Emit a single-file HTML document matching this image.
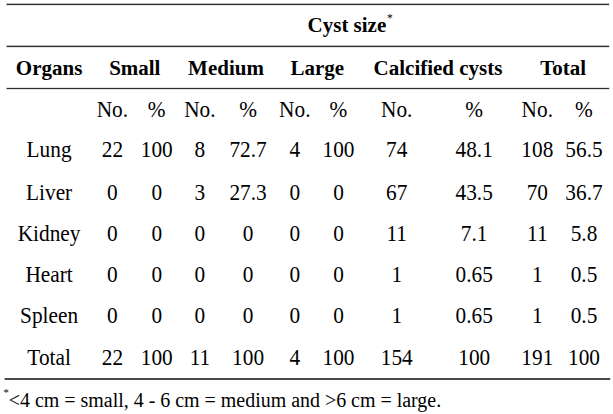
<!DOCTYPE html>
<html><head><meta charset="utf-8"><title>Cyst size by organ</title><style>
html,body{margin:0;padding:0;background:#fff;width:613px;height:414px;overflow:hidden}
svg{display:block}
text{font-family:"Liberation Serif",serif;fill:#000}
.r{font-size:21.33px;text-anchor:middle}
.b{font-size:21.0px;font-weight:bold;text-anchor:middle}
.f{font-size:19.95px;text-anchor:start}
.s1{font-size:11.5px;text-anchor:start}
.s2{font-size:10.5px;text-anchor:start}
</style></head><body>
<svg width="613" height="414" viewBox="0 0 613 414">
<rect x="6.5" y="3.65" width="602.7" height="1.5" fill="#333"/><rect x="6.5" y="45.65" width="602.7" height="1.5" fill="#333"/><rect x="6.5" y="87.85" width="602.7" height="1.3" fill="#2e2e2e"/><rect x="4.6" y="378.00" width="605.6" height="2.0" fill="#4a4a4a"/>
<text class="b" transform="translate(346.9 31.9) scale(1 1.03)">Cyst size</text>
<text class="s1" x="387.0" y="21.6">*</text>
<text class="b" transform="translate(49.1 75.4) scale(1 1.045)">Organs</text>
<text class="b" transform="translate(134.8 75.4) scale(1 1.045)">Small</text>
<text class="b" transform="translate(226.0 75.4) scale(1 1.045)">Medium</text>
<text class="b" transform="translate(317.2 75.4) scale(1 1.045)">Large</text>
<text class="b" transform="translate(438.0 75.4) scale(1 1.045)">Calcified cysts</text>
<text class="b" transform="translate(563.1 75.4) scale(1 1.045)">Total</text>
<text class="r" transform="translate(112.4 116.8) scale(1 1.06)">No.</text>
<text class="r" transform="translate(156.7 116.8) scale(1 1.06)">%</text>
<text class="r" transform="translate(199.9 116.8) scale(1 1.06)">No.</text>
<text class="r" transform="translate(248.1 116.8) scale(1 1.06)">%</text>
<text class="r" transform="translate(294.8 116.8) scale(1 1.06)">No.</text>
<text class="r" transform="translate(338.5 116.8) scale(1 1.06)">%</text>
<text class="r" transform="translate(396.7 116.8) scale(1 1.06)">No.</text>
<text class="r" transform="translate(474.2 116.8) scale(1 1.06)">%</text>
<text class="r" transform="translate(537.3 116.8) scale(1 1.06)">No.</text>
<text class="r" transform="translate(584.0 116.8) scale(1 1.06)">%</text>
<text class="r" transform="translate(49.1 157.4) scale(1 1.06)">Lung</text>
<text class="r" transform="translate(112.4 157.4) scale(1 1.06)">22</text>
<text class="r" transform="translate(156.7 157.4) scale(1 1.06)">100</text>
<text class="r" transform="translate(199.9 157.4) scale(1 1.06)">8</text>
<text class="r" transform="translate(248.1 157.4) scale(1 1.06)">72.7</text>
<text class="r" transform="translate(294.8 157.4) scale(1 1.06)">4</text>
<text class="r" transform="translate(338.5 157.4) scale(1 1.06)">100</text>
<text class="r" transform="translate(396.7 157.4) scale(1 1.06)">74</text>
<text class="r" transform="translate(474.2 157.4) scale(1 1.06)">48.1</text>
<text class="r" transform="translate(537.3 157.4) scale(1 1.06)">108</text>
<text class="r" transform="translate(584.0 157.4) scale(1 1.06)">56.5</text>
<text class="r" transform="translate(49.1 200.0) scale(1 1.06)">Liver</text>
<text class="r" transform="translate(112.4 200.0) scale(1 1.06)">0</text>
<text class="r" transform="translate(156.7 200.0) scale(1 1.06)">0</text>
<text class="r" transform="translate(199.9 200.0) scale(1 1.06)">3</text>
<text class="r" transform="translate(248.1 200.0) scale(1 1.06)">27.3</text>
<text class="r" transform="translate(294.8 200.0) scale(1 1.06)">0</text>
<text class="r" transform="translate(338.5 200.0) scale(1 1.06)">0</text>
<text class="r" transform="translate(396.7 200.0) scale(1 1.06)">67</text>
<text class="r" transform="translate(474.2 200.0) scale(1 1.06)">43.5</text>
<text class="r" transform="translate(537.3 200.0) scale(1 1.06)">70</text>
<text class="r" transform="translate(584.0 200.0) scale(1 1.06)">36.7</text>
<text class="r" transform="translate(49.1 241.0) scale(1 1.06)">Kidney</text>
<text class="r" transform="translate(112.4 241.0) scale(1 1.06)">0</text>
<text class="r" transform="translate(156.7 241.0) scale(1 1.06)">0</text>
<text class="r" transform="translate(199.9 241.0) scale(1 1.06)">0</text>
<text class="r" transform="translate(248.1 241.0) scale(1 1.06)">0</text>
<text class="r" transform="translate(294.8 241.0) scale(1 1.06)">0</text>
<text class="r" transform="translate(338.5 241.0) scale(1 1.06)">0</text>
<text class="r" transform="translate(396.7 241.0) scale(1 1.06)">11</text>
<text class="r" transform="translate(474.2 241.0) scale(1 1.06)">7.1</text>
<text class="r" transform="translate(537.3 241.0) scale(1 1.06)">11</text>
<text class="r" transform="translate(584.0 241.0) scale(1 1.06)">5.8</text>
<text class="r" transform="translate(49.1 282.0) scale(1 1.06)">Heart</text>
<text class="r" transform="translate(112.4 282.0) scale(1 1.06)">0</text>
<text class="r" transform="translate(156.7 282.0) scale(1 1.06)">0</text>
<text class="r" transform="translate(199.9 282.0) scale(1 1.06)">0</text>
<text class="r" transform="translate(248.1 282.0) scale(1 1.06)">0</text>
<text class="r" transform="translate(294.8 282.0) scale(1 1.06)">0</text>
<text class="r" transform="translate(338.5 282.0) scale(1 1.06)">0</text>
<text class="r" transform="translate(396.7 282.0) scale(1 1.06)">1</text>
<text class="r" transform="translate(474.2 282.0) scale(1 1.06)">0.65</text>
<text class="r" transform="translate(537.3 282.0) scale(1 1.06)">1</text>
<text class="r" transform="translate(584.0 282.0) scale(1 1.06)">0.5</text>
<text class="r" transform="translate(49.1 323.0) scale(1 1.06)">Spleen</text>
<text class="r" transform="translate(112.4 323.0) scale(1 1.06)">0</text>
<text class="r" transform="translate(156.7 323.0) scale(1 1.06)">0</text>
<text class="r" transform="translate(199.9 323.0) scale(1 1.06)">0</text>
<text class="r" transform="translate(248.1 323.0) scale(1 1.06)">0</text>
<text class="r" transform="translate(294.8 323.0) scale(1 1.06)">0</text>
<text class="r" transform="translate(338.5 323.0) scale(1 1.06)">0</text>
<text class="r" transform="translate(396.7 323.0) scale(1 1.06)">1</text>
<text class="r" transform="translate(474.2 323.0) scale(1 1.06)">0.65</text>
<text class="r" transform="translate(537.3 323.0) scale(1 1.06)">1</text>
<text class="r" transform="translate(584.0 323.0) scale(1 1.06)">0.5</text>
<text class="r" transform="translate(49.1 364.6) scale(1 1.06)">Total</text>
<text class="r" transform="translate(112.4 364.6) scale(1 1.06)">22</text>
<text class="r" transform="translate(156.7 364.6) scale(1 1.06)">100</text>
<text class="r" transform="translate(199.9 364.6) scale(1 1.06)">11</text>
<text class="r" transform="translate(248.1 364.6) scale(1 1.06)">100</text>
<text class="r" transform="translate(294.8 364.6) scale(1 1.06)">4</text>
<text class="r" transform="translate(338.5 364.6) scale(1 1.06)">100</text>
<text class="r" transform="translate(396.7 364.6) scale(1 1.06)">154</text>
<text class="r" transform="translate(474.2 364.6) scale(1 1.06)">100</text>
<text class="r" transform="translate(537.3 364.6) scale(1 1.06)">191</text>
<text class="r" transform="translate(584.0 364.6) scale(1 1.06)">100</text>
<text class="f" x="8.8" y="406.9">&lt;4 cm = small, 4 - 6 cm = medium and &gt;6 cm = large.</text>
<text class="s2" x="3.4" y="396.2">*</text>
</svg>
</body></html>
